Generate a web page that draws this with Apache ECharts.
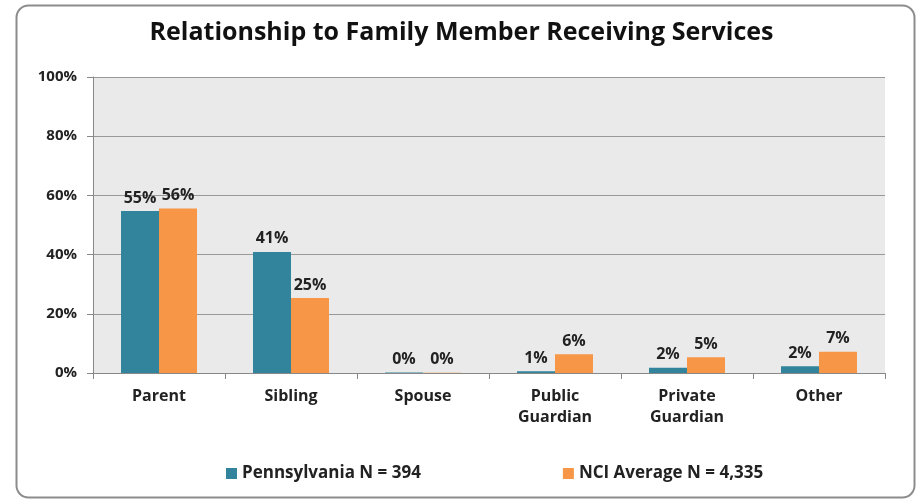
<!DOCTYPE html>
<html><head><meta charset="utf-8">
<script src="https://cdn.jsdelivr.net/npm/echarts@6/dist/echarts.min.js"></script>
<style>html,body{margin:0;padding:0;background:#fff}#c{width:923px;height:499px}</style>
</head><body><div id="c"></div>
<script>
var categories = ['Parent', 'Sibling', 'Spouse', 'Public\nGuardian', 'Private\nGuardian', 'Other'];
var pennsylvania = [54.7, 40.9, 0.2, 0.6, 1.8, 2.3];
var nciAverage = [55.6, 25.3, 0.1, 6.3, 5.3, 7.2];
var seriesNames = ['Pennsylvania N = 394', 'NCI Average N = 4,335'];
var yTicks = [0, 20, 40, 60, 80, 100];

var FONT = '"Open Sans", "Noto Sans", sans-serif';
var chart = echarts.init(document.getElementById('c'));
var labelCfg = {
  show: true, position: 'top', distance: 5,
  formatter: function (p) { return Math.round(p.value) + '%'; },
  fontFamily: FONT, fontWeight: 'bold', fontSize: 16, color: '#222'
};
chart.setOption({
  animation: false,
  backgroundColor: '#fff',
  graphic: [{
    type: 'rect', left: 14, top: 3, silent: true,
    shape: { width: 898, height: 492, r: 12 },
    style: { fill: 'none', stroke: '#8c8c8c', lineWidth: 2 }
  }],
  title: {
    text: 'Relationship to Family Member Receiving Services',
    left: 'center', top: 15,
    textStyle: { fontFamily: FONT, fontWeight: 'bold', fontSize: 25, color: '#111' }
  },
  legend: {
    bottom: 12, left: 221, itemGap: 142, itemWidth: 11, itemHeight: 11,
    icon: 'rect',
    textStyle: { fontFamily: FONT, fontWeight: 'bold', fontSize: 17, color: '#222' }
  },
  grid: { left: 93, right: 38, top: 77, bottom: 126, show: true, backgroundColor: '#EAEAEA', borderWidth: 0 },
  xAxis: {
    type: 'category', data: categories,
    axisLine: { lineStyle: { color: '#888', width: 1 } },
    axisTick: { show: true, length: 6, lineStyle: { color: '#888' } },
    axisLabel: { fontFamily: FONT, fontWeight: 'bold', fontSize: 16, color: '#222', margin: 13, lineHeight: 21 }
  },
  yAxis: {
    type: 'value', min: yTicks[0], max: yTicks[yTicks.length - 1], interval: 20,
    axisLine: { show: true, lineStyle: { color: '#888' } },
    axisTick: { show: true, length: 6, inside: false, lineStyle: { color: '#888' } },
    splitLine: { lineStyle: { color: '#999', width: 1 } },
    axisLabel: { formatter: '{value}%', fontFamily: FONT, fontWeight: 'bold', fontSize: 15, color: '#222', margin: 16 }
  },
  series: [
    { name: seriesNames[0], type: 'bar', data: pennsylvania, barWidth: 38, barGap: '0%',
      itemStyle: { color: '#31849B' }, label: labelCfg },
    { name: seriesNames[1], type: 'bar', data: nciAverage, barWidth: 38,
      itemStyle: { color: '#F79646' }, label: labelCfg }
  ]
});
</script></body></html>
